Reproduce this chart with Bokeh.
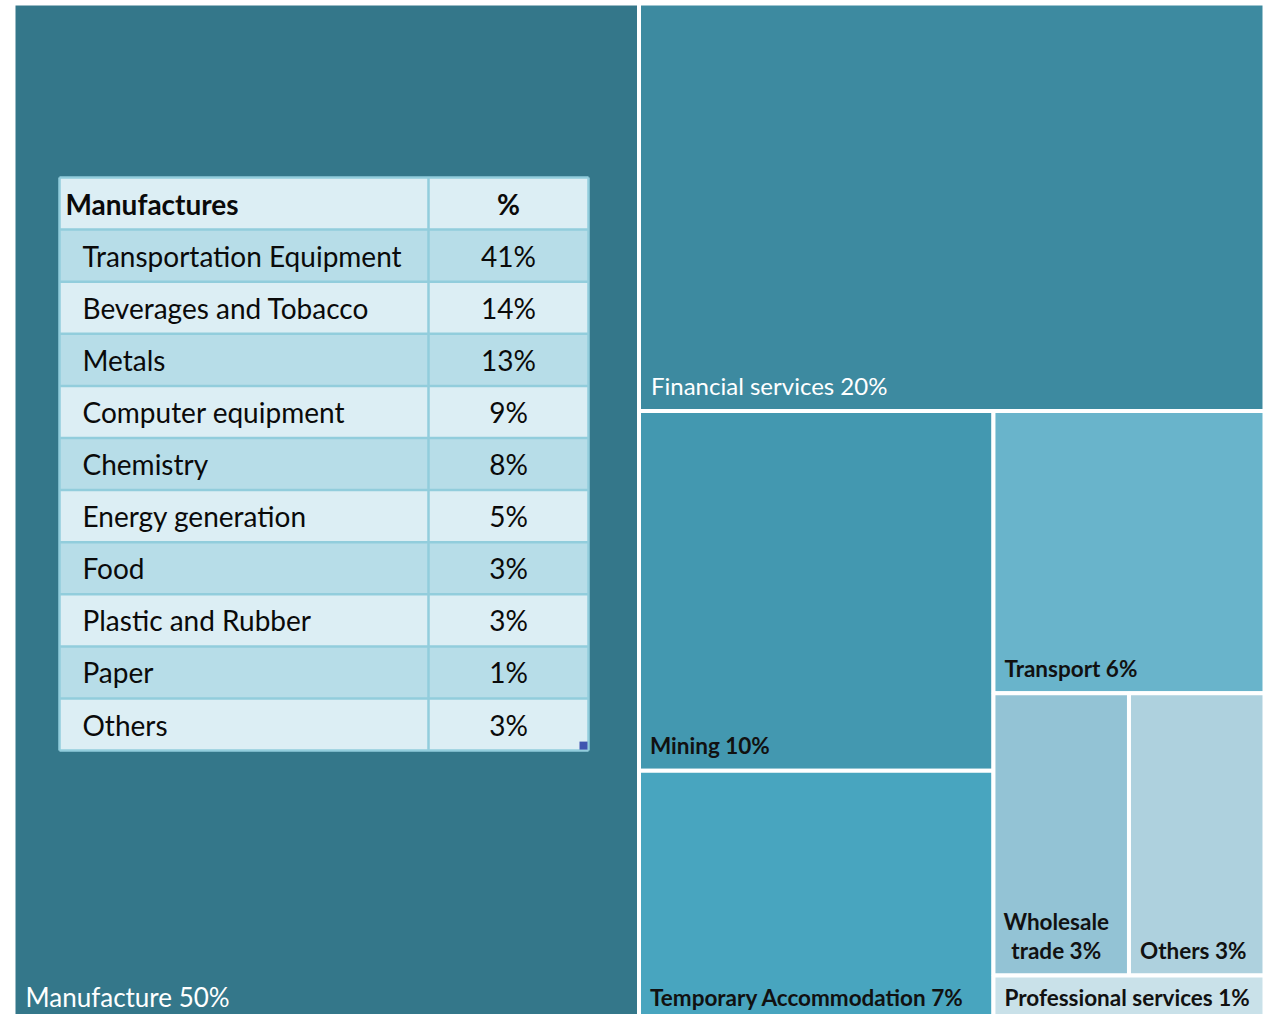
from bokeh.plotting import figure
from bokeh.models import Range1d, ColumnDataSource
from bokeh.core.properties import value
from bokeh.embed import file_html
from bokeh.resources import INLINE

# ---------------- data ----------------
sectors = ["Manufacture", "Financial services", "Mining", "Temporary Accommodation",
           "Transport", "Wholesale trade", "Others", "Professional services"]
shares = [50, 20, 10, 7, 6, 3, 3, 1]
sector_colors = ["#34778A", "#3D8AA0", "#4398B0", "#48A5BF",
                 "#69B4CB", "#93C3D5", "#AED1DE", "#C9E1E9"]

table_header = ["Manufactures", "%"]
manuf_items = ["Transportation Equipment", "Beverages and Tobacco", "Metals",
               "Computer equipment", "Chemistry", "Energy generation", "Food",
               "Plastic and Rubber", "Paper", "Others"]
manuf_shares = [41, 14, 13, 9, 8, 5, 3, 3, 1, 3]

# treemap nesting: "h" = side by side, "v" = stacked; leaves index the arrays above
tree = ("h", [0, ("v", [1, ("h", [("v", [2, 3]),
                                   ("v", [4, ("v", [("h", [5, 6]), 7])])])])])

def total(node):
    if isinstance(node, int):
        return shares[node]
    return sum(total(k) for k in node[1])

def layout(node, x0, y0, x1, y1, out):
    if isinstance(node, int):
        out[node] = (x0, y0, x1, y1)
        return
    d, kids = node
    T = total(node)
    pos = x0 if d == "h" else y0
    for k in kids:
        f = total(k) / T
        if d == "h":
            nx = pos + (x1 - x0) * f
            layout(k, pos, y0, nx, y1, out)
            pos = nx
        else:
            ny = pos + (y1 - y0) * f
            layout(k, x0, pos, x1, ny, out)
            pos = ny

W, H = 1271, 1014
p = figure(width=W, height=H, x_range=Range1d(0, W), y_range=Range1d(H, 0),
           output_backend="svg", toolbar_location=None, min_border=0)
p.xaxis.visible = False
p.yaxis.visible = False
p.grid.visible = False
p.outline_line_color = None
p.background_fill_color = "white"
p.border_fill_color = "white"

rects = {}
layout(tree, 13, 3, 1264, 1022, rects)
n = len(sectors)
src = ColumnDataSource(dict(
    left=[rects[i][0] for i in range(n)], right=[rects[i][2] for i in range(n)],
    top=[rects[i][1] for i in range(n)], bottom=[rects[i][3] for i in range(n)],
    color=sector_colors))
p.quad(left="left", right="right", top="top", bottom="bottom", fill_color="color",
       line_color="white", line_width=4, source=src)

# labels
FONT = value("Lato")
for i in range(n):
    x0, y0, x1, y1 = rects[i]
    lab = f"{sectors[i]} {shares[i]}%"
    if i < 2:
        p.text(x=[x0 + 12], y=[y1 - 26], text=[lab], text_font=FONT,
               text_font_size="26px" if i == 0 else "24px", text_color="white",
               text_baseline="middle", text_align="left")
    elif sectors[i] == "Wholesale trade":
        cx = (x0 + x1) / 2 - 5
        p.text(x=[cx, cx], y=[y1 - 54, y1 - 25], text=["Wholesale", f"trade {shares[i]}%"],
               text_font=FONT, text_font_style="bold", text_font_size="22.5px",
               text_color="#111111", text_baseline="middle", text_align="center")
    else:
        p.text(x=[x0 + 11], y=[y1 - 25], text=[lab], text_font=FONT,
               text_font_style="bold", text_font_size="22.5px", text_color="#111111",
               text_baseline="middle", text_align="left")

# inset table
TL, TR, TC, TT, RH = 59, 588, 428, 177, 52.1
nrows = len(manuf_items) + 1
row_top = [TT + r * RH for r in range(nrows)]
row_col = ["#DCEEF4"] + ["#B7DDE8" if k % 2 == 0 else "#DCEEF4" for k in range(len(manuf_items))]
p.quad(left=TL, right=TR, top=row_top, bottom=[t + RH for t in row_top],
       fill_color=row_col, line_color=None)
grid_x = [[TL, TR] for _ in range(nrows + 1)]
grid_y = [[TT + r * RH] * 2 for r in range(nrows + 1)]
for vx in (TL, TC, TR):
    grid_x.append([vx, vx])
    grid_y.append([TT, TT + nrows * RH])
p.multi_line(xs=grid_x, ys=grid_y, line_color="#92CDDC", line_width=2.5)

TFS = "28px"
p.text(x=[TL + 6], y=[TT + RH / 2], text=[table_header[0]], text_font=FONT,
       text_font_style="bold", text_font_size=TFS, text_color="#0a0a0a",
       text_baseline="middle", text_align="left")
p.text(x=[(TC + TR) / 2], y=[TT + RH / 2], text=[table_header[1]], text_font=FONT,
       text_font_style="bold", text_font_size=TFS, text_color="#0a0a0a",
       text_baseline="middle", text_align="center")
p.text(x=[TL + 23] * len(manuf_items), y=[t + RH / 2 for t in row_top[1:]],
       text=manuf_items, text_font=FONT, text_font_size=TFS, text_color="#0a0a0a",
       text_baseline="middle", text_align="left")
p.text(x=[(TC + TR) / 2] * len(manuf_items), y=[t + RH / 2 for t in row_top[1:]],
       text=[f"{v}%" for v in manuf_shares], text_font=FONT, text_font_size=TFS,
       text_color="#0a0a0a", text_baseline="middle", text_align="center")
# resize handle marker
p.quad(left=[TR - 9], right=[TR - 1], top=[TT + nrows * RH - 9], bottom=[TT + nrows * RH - 1],
       fill_color="#4055B0", line_color=None)

open("out.html", "w").write(file_html(p, INLINE))
